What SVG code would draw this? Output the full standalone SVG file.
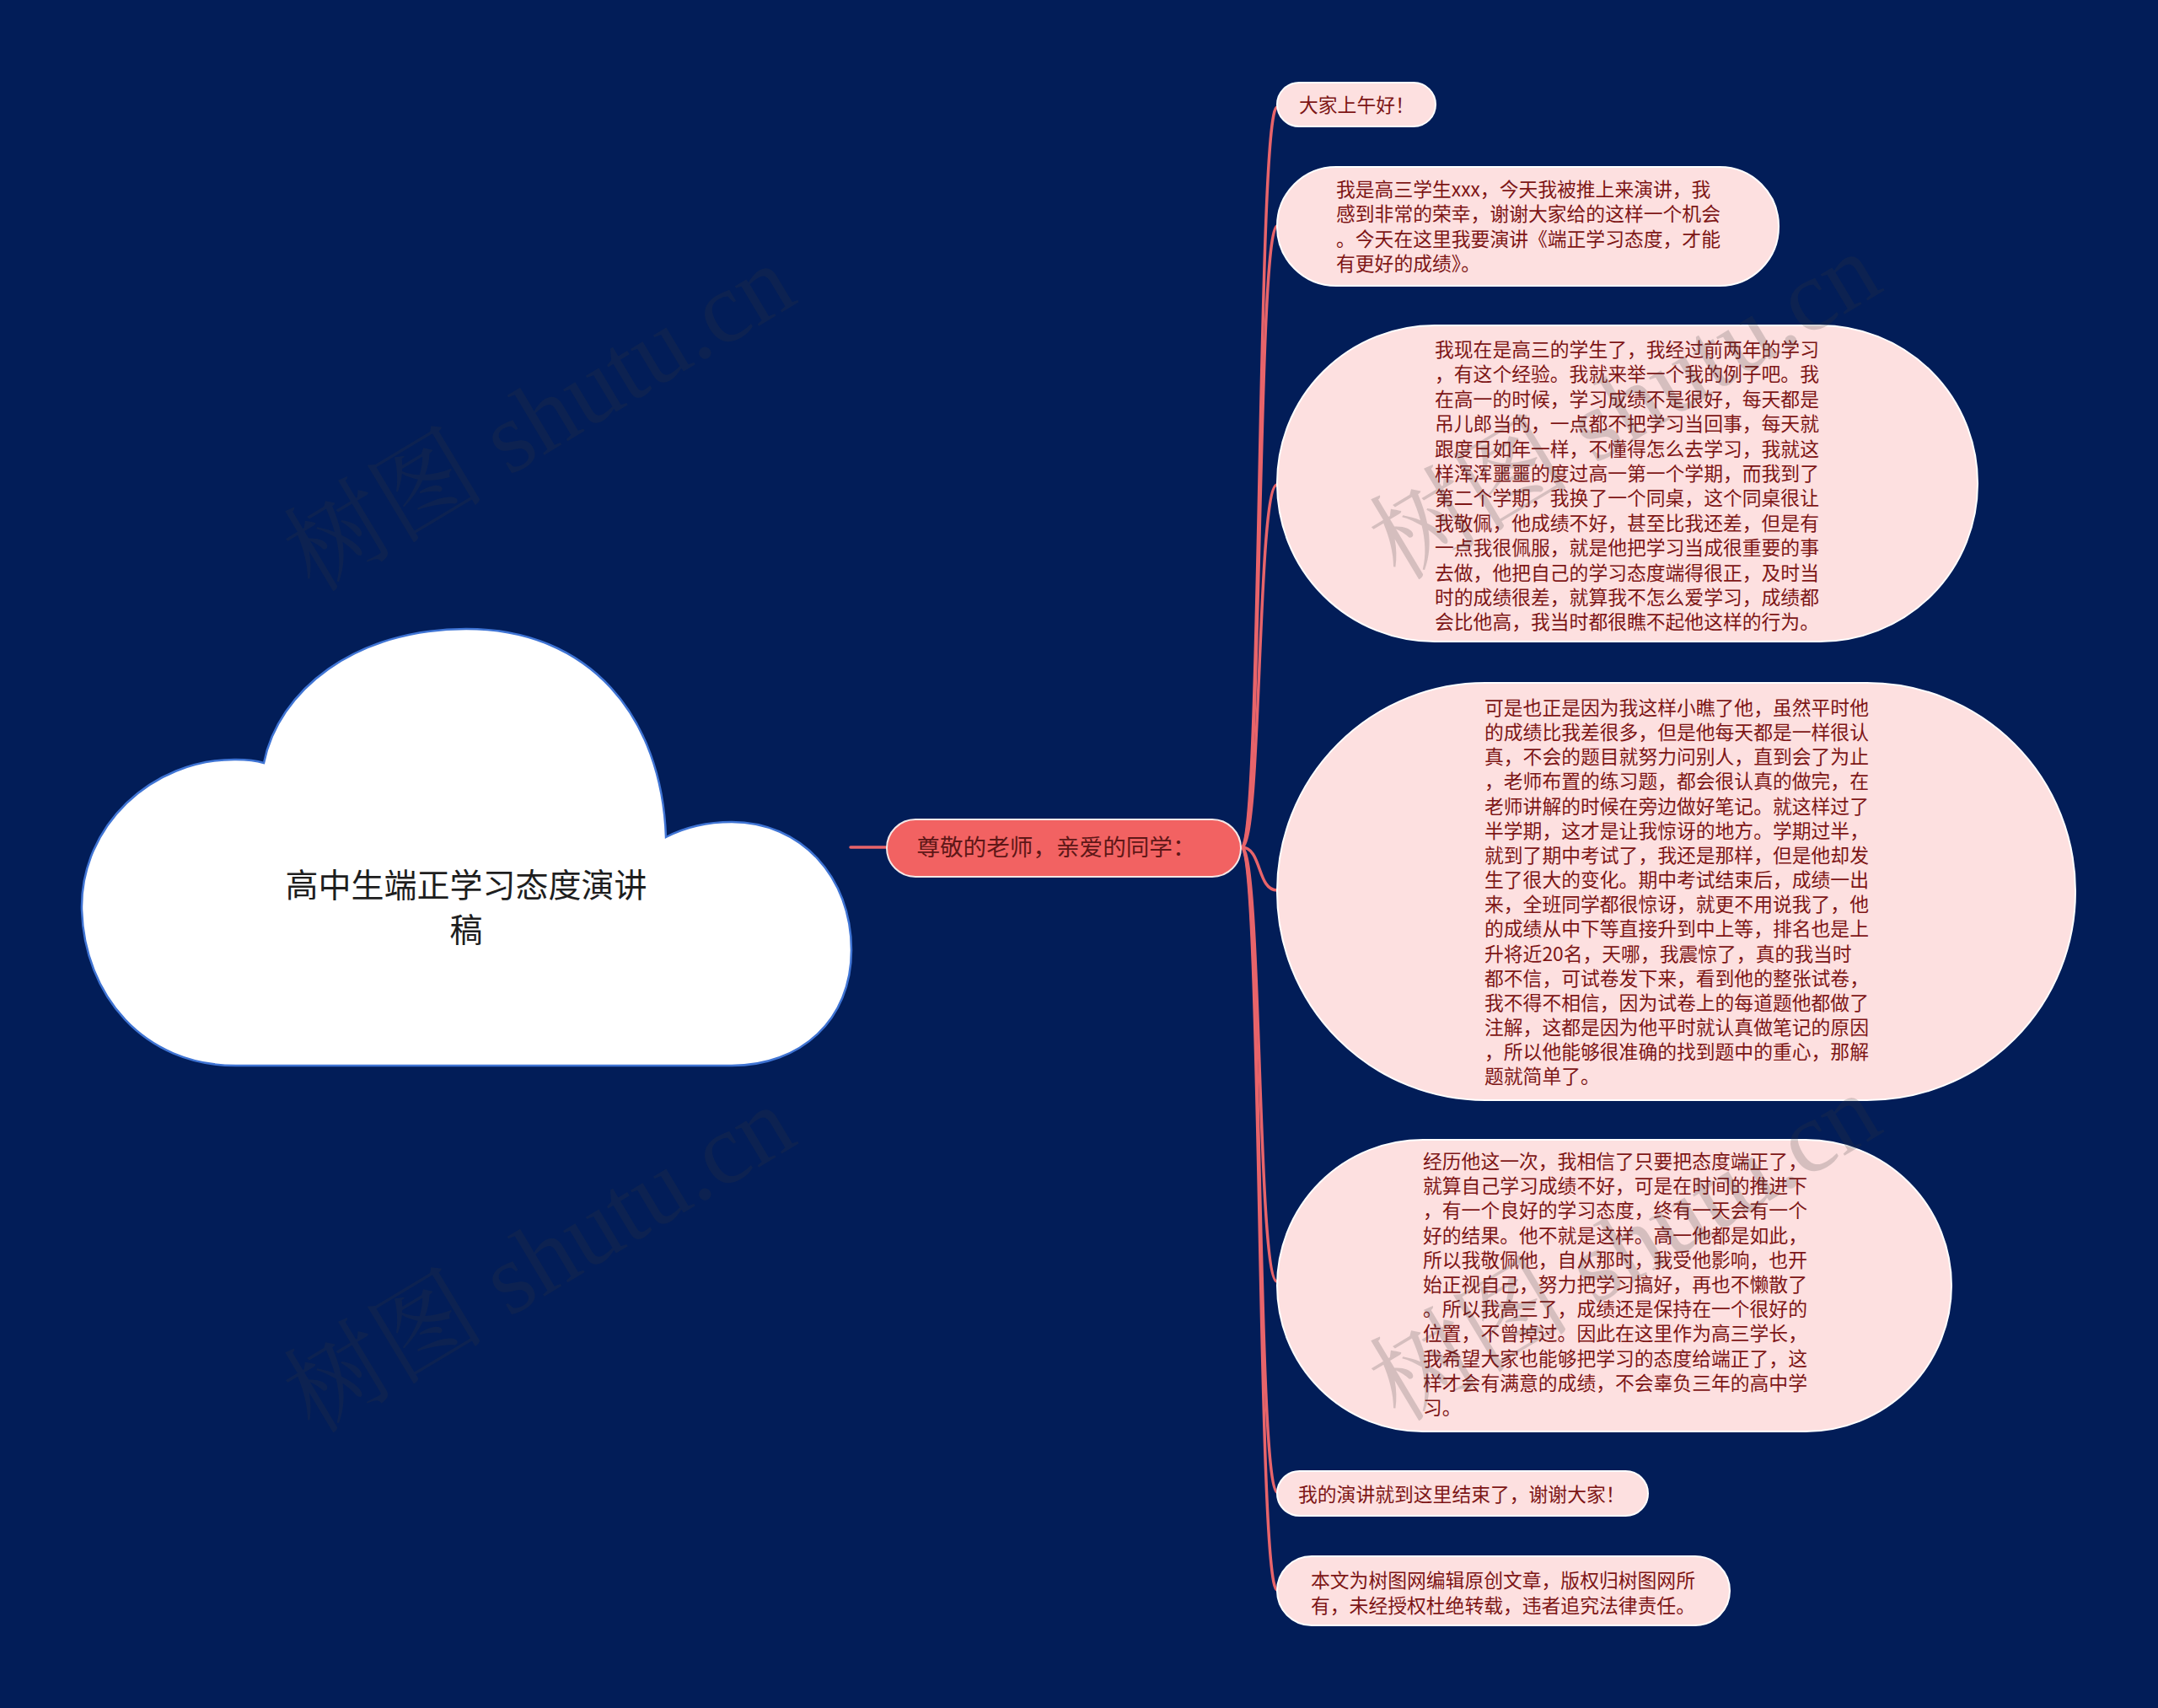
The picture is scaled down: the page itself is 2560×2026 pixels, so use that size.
<svg xmlns="http://www.w3.org/2000/svg" width="2560" height="2026" viewBox="0 0 2560 2026">
<style>
.bg{fill:#021d58}
.cloud{fill:#ffffff;stroke:#3f74d4;stroke-width:2.5}
.title{font-family:"Noto Sans CJK SC","Noto Sans",sans-serif;font-size:39px;fill:#1e1e1e;text-anchor:middle}
.l1{fill:#f26262;stroke:#f4e8e8;stroke-width:2}
.l1t{font-family:"Noto Sans CJK SC","Noto Sans",sans-serif;font-size:27.6px;fill:#5e1717;text-anchor:middle}
.leaf{fill:#fde0e0;stroke:#ffffff;stroke-width:2}
.lt{font-family:"Noto Sans CJK SC","Noto Sans",sans-serif;font-size:22.8px;fill:#7d1616}
.conn{fill:none;stroke:#e8646a;stroke-width:3.5;stroke-linecap:round}
.wm{font-family:"Liberation Serif","Noto Serif CJK SC","Noto Sans CJK SC",serif;font-size:120px;fill:#3a3a3a;opacity:0.2}
</style>
<rect class="bg" x="0" y="0" width="2560" height="2026"/>

<g id="connectors">
<path class="conn" d="M1009,1005 L1052,1005" stroke-width="5"/>
<path class="conn" d="M1473,1005 C1497,1005 1491,127 1515,127"/>
<path class="conn" d="M1473,1005 C1497,1005 1491,268 1515,268"/>
<path class="conn" d="M1473,1005 C1497,1005 1491,575 1515,575"/>
<path class="conn" d="M1473,1005 C1497,1005 1491,1056 1515,1056"/>
<path class="conn" d="M1473,1005 C1497,1005 1491,1520 1515,1520"/>
<path class="conn" d="M1473,1005 C1497,1005 1491,1770 1515,1770"/>
<path class="conn" d="M1473,1005 C1497,1005 1491,1886 1515,1886"/>
</g>

<g id="root">
<path class="cloud" d="M280,1264 C170,1264 100,1180 97,1079 C95,980 180,900 280,901 Q300,901 313,905 C330,820 420,746 553,746 C700,746 785,850 790,993 C815,980 840,975 868,975 C950,975 1010,1040 1010,1127 C1010,1210 950,1264 868,1264 Z"/>
<text class="title" x="553" y="1064">高中生端正学习态度演讲</text>
<text class="title" x="553" y="1117">稿</text>
</g>

<g id="n-main">
<rect class="l1" x="1052" y="972" width="420" height="68" rx="34" ry="34"/>
<text class="l1t" x="1253" y="1015">尊敬的老师，亲爱的同学：</text>
</g>

<g id="n1">
<rect class="leaf" x="1515" y="98" width="188" height="52" rx="26" ry="26"/>
<text class="lt" x="1541" y="133">大家上午好！</text>
</g>

<g id="n2">
<rect class="leaf" x="1515" y="198" width="595" height="141" rx="70" ry="70"/>
<text class="lt">
<tspan x="1585" y="233">我是高三学生xxx，今天我被推上来演讲，我</tspan>
<tspan x="1585" y="262.4">感到非常的荣幸，谢谢大家给的这样一个机会</tspan>
<tspan x="1585" y="291.8">。今天在这里我要演讲《端正学习态度，才能</tspan>
<tspan x="1585" y="321.2">有更好的成绩》。</tspan>
</text>
</g>

<g id="n3">
<rect class="leaf" x="1515" y="386" width="831" height="375" rx="187" ry="187"/>
<text class="lt">
<tspan x="1702" y="423">我现在是高三的学生了，我经过前两年的学习</tspan>
<tspan x="1702" y="452.4">，有这个经验。我就来举一个我的例子吧。我</tspan>
<tspan x="1702" y="481.8">在高一的时候，学习成绩不是很好，每天都是</tspan>
<tspan x="1702" y="511.2">吊儿郎当的，一点都不把学习当回事，每天就</tspan>
<tspan x="1702" y="540.6">跟度日如年一样，不懂得怎么去学习，我就这</tspan>
<tspan x="1702" y="570">样浑浑噩噩的度过高一第一个学期，而我到了</tspan>
<tspan x="1702" y="599.4">第二个学期，我换了一个同桌，这个同桌很让</tspan>
<tspan x="1702" y="628.8">我敬佩，他成绩不好，甚至比我还差，但是有</tspan>
<tspan x="1702" y="658.2">一点我很佩服，就是他把学习当成很重要的事</tspan>
<tspan x="1702" y="687.6">去做，他把自己的学习态度端得很正，及时当</tspan>
<tspan x="1702" y="717">时的成绩很差，就算我不怎么爱学习，成绩都</tspan>
<tspan x="1702" y="746.4">会比他高，我当时都很瞧不起他这样的行为。</tspan>
</text>
</g>

<g id="n4">
<rect class="leaf" x="1515" y="810" width="947" height="495" rx="247" ry="247"/>
<text class="lt">
<tspan x="1761" y="848">可是也正是因为我这样小瞧了他，虽然平时他</tspan>
<tspan x="1761" y="877.15">的成绩比我差很多，但是他每天都是一样很认</tspan>
<tspan x="1761" y="906.3">真，不会的题目就努力问别人，直到会了为止</tspan>
<tspan x="1761" y="935.45">，老师布置的练习题，都会很认真的做完，在</tspan>
<tspan x="1761" y="964.6">老师讲解的时候在旁边做好笔记。就这样过了</tspan>
<tspan x="1761" y="993.75">半学期，这才是让我惊讶的地方。学期过半，</tspan>
<tspan x="1761" y="1022.9">就到了期中考试了，我还是那样，但是他却发</tspan>
<tspan x="1761" y="1052.05">生了很大的变化。期中考试结束后，成绩一出</tspan>
<tspan x="1761" y="1081.2">来，全班同学都很惊讶，就更不用说我了，他</tspan>
<tspan x="1761" y="1110.35">的成绩从中下等直接升到中上等，排名也是上</tspan>
<tspan x="1761" y="1139.5">升将近20名，天哪，我震惊了，真的我当时</tspan>
<tspan x="1761" y="1168.65">都不信，可试卷发下来，看到他的整张试卷，</tspan>
<tspan x="1761" y="1197.8">我不得不相信，因为试卷上的每道题他都做了</tspan>
<tspan x="1761" y="1226.95">注解，这都是因为他平时就认真做笔记的原因</tspan>
<tspan x="1761" y="1256.1">，所以他能够很准确的找到题中的重心，那解</tspan>
<tspan x="1761" y="1285.25">题就简单了。</tspan>
</text>
</g>

<g id="n5">
<rect class="leaf" x="1515" y="1352" width="800" height="346" rx="173" ry="173"/>
<text class="lt">
<tspan x="1688" y="1386">经历他这一次，我相信了只要把态度端正了，</tspan>
<tspan x="1688" y="1415.2">就算自己学习成绩不好，可是在时间的推进下</tspan>
<tspan x="1688" y="1444.4">，有一个良好的学习态度，终有一天会有一个</tspan>
<tspan x="1688" y="1473.6">好的结果。他不就是这样。高一他都是如此，</tspan>
<tspan x="1688" y="1502.8">所以我敬佩他，自从那时，我受他影响，也开</tspan>
<tspan x="1688" y="1532">始正视自己，努力把学习搞好，再也不懒散了</tspan>
<tspan x="1688" y="1561.2">。所以我高三了，成绩还是保持在一个很好的</tspan>
<tspan x="1688" y="1590.4">位置，不曾掉过。因此在这里作为高三学长，</tspan>
<tspan x="1688" y="1619.6">我希望大家也能够把学习的态度给端正了，这</tspan>
<tspan x="1688" y="1648.8">样才会有满意的成绩，不会辜负三年的高中学</tspan>
<tspan x="1688" y="1678">习。</tspan>
</text>
</g>

<g id="n6">
<rect class="leaf" x="1515" y="1745" width="440" height="53" rx="26.5" ry="26.5"/>
<text class="lt" x="1540" y="1781">我的演讲就到这里结束了，谢谢大家！</text>
</g>

<g id="n7">
<rect class="leaf" x="1515" y="1846" width="537" height="82" rx="41" ry="41"/>
<text class="lt">
<tspan x="1555" y="1883">本文为树图网编辑原创文章，版权归树图网所</tspan>
<tspan x="1555" y="1912.5">有，未经授权杜绝转载，违者追究法律责任。</tspan>
</text>
</g>

<g id="watermarks">
<text class="wm" transform="translate(372,704) rotate(-31)">树图 shutu.cn</text>
<text class="wm" transform="translate(372,1702) rotate(-31)">树图 shutu.cn</text>
<text class="wm" transform="translate(1660,690) rotate(-31)">树图 shutu.cn</text>
<text class="wm" transform="translate(1660,1688) rotate(-31)">树图 shutu.cn</text>
</g>
</svg>
